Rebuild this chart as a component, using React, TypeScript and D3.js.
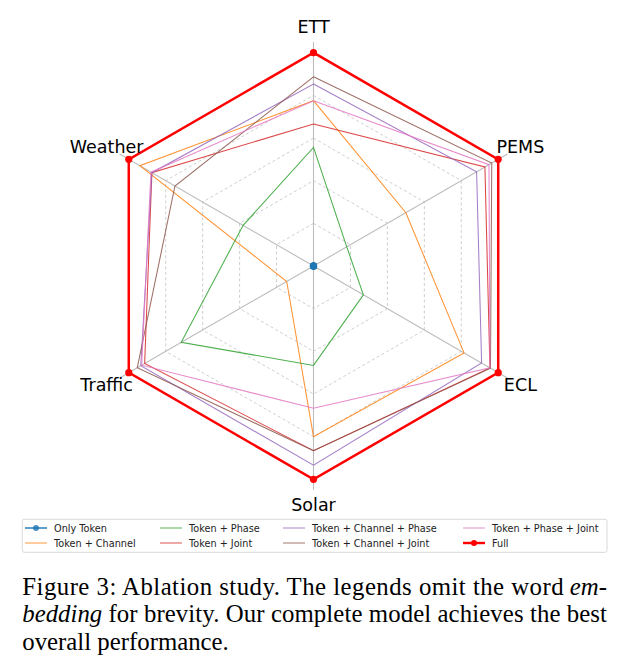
import * as d3 from 'd3';
import React from 'react';

// Ejes del radar (sentido horario desde arriba)
const axes = ['ETT', 'PEMS', 'ECL', 'Solar', 'Traffic', 'Weather'];

// Valores normalizados
const onlyToken = [0, 0, 0, 0, 0, 0];
const tokenChannel = [0.775, 0.5, 0.815, 0.8, 0.145, 0.94];
const tokenPhase = [0.556, 0.18, 0.27, 0.466, 0.716, 0.381];
const tokenJoint = [0.666, 0.928, 0.955, 0.866, 0.914, 0.875];
const tokenChannelPhase = [0.853, 0.883, 0.91, 0.934, 0.935, 0.875];
const tokenChannelJoint = [0.887, 0.965, 0.958, 0.866, 0.954, 0.75];
const tokenPhaseJoint = [0.775, 0.95, 0.955, 0.667, 0.93, 0.88];
const full = [1, 1, 1, 1, 1, 1];

const seriesNames = [
  'Only Token',
  'Token + Channel',
  'Token + Phase',
  'Token + Joint',
  'Token + Channel + Phase',
  'Token + Channel + Joint',
  'Token + Phase + Joint',
  'Full',
];
const seriesValues = [
  onlyToken,
  tokenChannel,
  tokenPhase,
  tokenJoint,
  tokenChannelPhase,
  tokenChannelJoint,
  tokenPhaseJoint,
  full,
];
const seriesColors = [
  '#1f77b4',
  '#ff7f0e',
  '#2ca02c',
  '#d62728',
  '#9467bd',
  '#8c564b',
  '#e377c2',
  '#ff0000',
];

const gridLevels = [0.2, 0.4, 0.6, 0.8, 1.0];

const App: React.FC = () => {
  const width = 629;
  const height = 663;
  const cx = 313.5;
  const cy = 266;

  const rScale = d3.scaleLinear().domain([0, 1]).range([0, 213.3]);
  const angle = d3
    .scaleLinear()
    .domain([0, axes.length])
    .range([0, 2 * Math.PI]);

  const radial = d3
    .lineRadial<number>()
    .angle((_, i) => angle(i))
    .radius((d) => rScale(d))
    .curve(d3.curveLinearClosed);

  const pt = (i: number, v: number) => {
    const a = angle(i);
    return [rScale(v) * Math.sin(a), -rScale(v) * Math.cos(a)];
  };

  // Leyenda
  const legendX = [25, 160, 283, 463];
  const legendY = [528, 543];

  // Pie de figura (justificado a mano)
  const capL = 22.3;
  const capR = 607;
  const fs = 24.8;
  const lh = 27.5;
  const y0 = 594.5;
  const emW = 1.499 * fs;
  const beddingW = 3.222 * fs;
  const sp = 0.25 * fs;

  return (
    <svg
      width={width}
      height={height}
      style={{ position: 'absolute', left: 0, top: 0, background: '#fff' }}
    >
      <g transform={`translate(${cx},${cy})`}>
        {/* Anillos */}
        {gridLevels.map((lv) => (
          <path
            key={lv}
            d={radial(axes.map(() => lv)) as string}
            fill="none"
            stroke="#c8c8c8"
            strokeWidth={0.9}
            strokeDasharray="3,2.5"
          />
        ))}
        {/* Radios */}
        {axes.map((a, i) => {
          const [x, y] = pt(i, 1.05);
          return (
            <line
              key={a}
              x1={0}
              y1={0}
              x2={x}
              y2={y}
              stroke="#bdbdbd"
              strokeWidth={1.1}
            />
          );
        })}
        {/* Series */}
        {seriesValues.map((vals, s) => {
          const isFull = s === seriesValues.length - 1;
          return (
            <g key={seriesNames[s]}>
              <path
                d={radial(vals) as string}
                fill="none"
                stroke={seriesColors[s]}
                strokeWidth={isFull ? 2.5 : 1.05}
                strokeOpacity={isFull ? 1 : 0.85}
                strokeLinejoin="miter"
              />
              {(s === 0 || isFull) &&
                vals.map((v, i) => {
                  const [x, y] = pt(i, v);
                  return (
                    <circle
                      key={i}
                      cx={x}
                      cy={y}
                      r={3.6}
                      fill={seriesColors[s]}
                    />
                  );
                })}
            </g>
          );
        })}
        {/* Etiquetas de ejes */}
        {axes.map((a, i) => {
          const [x, y] = pt(i, 1.12);
          return (
            <text
              key={a}
              x={x}
              y={y}
              textAnchor="middle"
              dominantBaseline="central"
              fontFamily="DejaVu Sans"
              fontSize={17.5}
              fill="#000"
            >
              {a}
            </text>
          );
        })}
      </g>

      {/* Caja de leyenda */}
      <rect
        x={22.3}
        y={519.3}
        width={584.7}
        height={33}
        rx={2}
        fill="#fff"
        stroke="#d9d9d9"
        strokeWidth={1}
      />
      {seriesNames.map((name, s) => {
        const col = Math.floor(s / 2);
        const row = s % 2;
        const x = legendX[col];
        const y = legendY[row];
        const isFull = s === seriesNames.length - 1;
        const showMarker = s === 0 || isFull;
        return (
          <g key={name}>
            <line
              x1={x}
              y1={y}
              x2={x + 22}
              y2={y}
              stroke={seriesColors[s]}
              strokeWidth={isFull ? 2.4 : 1.8}
              strokeOpacity={isFull ? 1 : s === 0 ? 0.8 : 0.45}
            />
            {showMarker && (
              <circle
                cx={x + 11}
                cy={y}
                r={3}
                fill={seriesColors[s]}
                fillOpacity={isFull ? 1 : 0.8}
              />
            )}
            <text
              x={x + 29}
              y={y}
              dominantBaseline="central"
              fontFamily="DejaVu Sans"
              fontSize={9.7}
              fill="#222"
            >
              {name}
            </text>
          </g>
        );
      })}

      {/* Pie de figura */}
      <g fontFamily="Liberation Serif" fontSize={fs} fill="#000">
        <text
          x={capL}
          y={y0}
          textLength={capR - capL - emW - sp}
          lengthAdjust="spacing"
        >
          Figure 3: Ablation study. The legends omit the word
        </text>
        <text x={capR} y={y0} textAnchor="end" fontStyle="italic">
          em-
        </text>
        <text x={capL} y={y0 + lh} fontStyle="italic">
          bedding
        </text>
        <text
          x={capL + beddingW + sp}
          y={y0 + lh}
          textLength={capR - capL - beddingW - sp}
          lengthAdjust="spacing"
        >
          for brevity. Our complete model achieves the best
        </text>
        <text x={capL} y={y0 + 2 * lh}>
          overall performance.
        </text>
      </g>
    </svg>
  );
};

export default App;
